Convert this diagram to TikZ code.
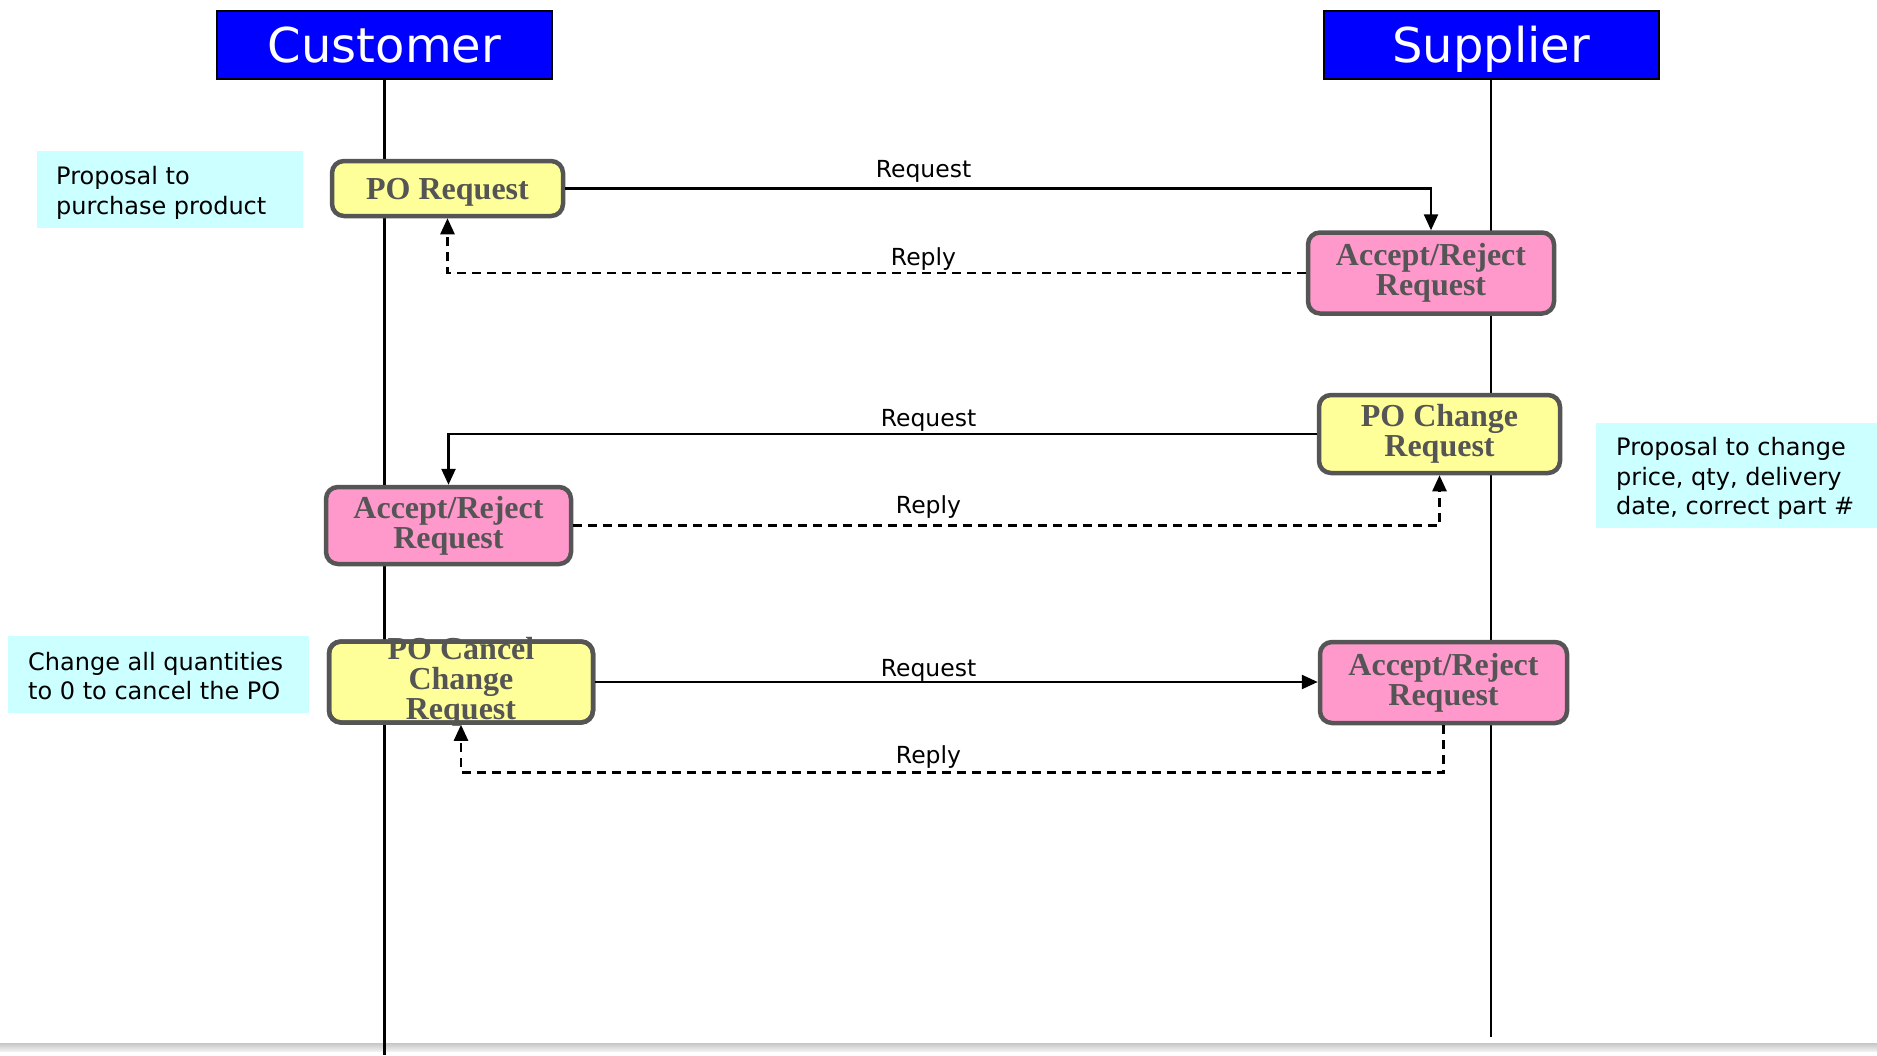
\documentclass[tikz,border=0pt]{standalone}
\usepackage{fontspec}
\setmainfont{Liberation Serif}
\newfontfamily\labelfont{DejaVu Sans}
\usetikzlibrary{arrows.meta}

\definecolor{hdrblue}{HTML}{0000FF}
\definecolor{stepyellow}{HTML}{FFFF99}
\definecolor{steppink}{HTML}{FF99CC}
\definecolor{edgegray}{HTML}{555555}
\definecolor{notecyan}{HTML}{CCFFFF}

\tikzset{
  header/.style={draw=black, line width=2pt, fill=hdrblue, text=white,
    font=\labelfont\fontsize{48}{54}\selectfont,
    text height=35pt, text depth=0pt,
    minimum width=335pt, minimum height=68pt, inner sep=0pt},
  lifeline/.style={draw=black},
  procbox/.style={draw=edgegray, line width=4.5pt, rounded corners=12pt,
    text=edgegray, font=\fontsize{32}{30}\selectfont\bfseries,
    align=center, inner sep=0pt},
  askbox/.style={procbox, fill=stepyellow},
  answerbox/.style={procbox, fill=steppink},
  boxtext/.style={text=edgegray, font=\fontsize{32}{30}\selectfont\bfseries,
    align=center, inner sep=0pt},
  notebg/.style={fill=notecyan, anchor=north west, inner sep=0pt},
  notetext/.style={anchor=west, align=left, inner sep=0pt,
    font=\labelfont\fontsize{24}{29.5}\selectfont},
  msg/.style={line width=2.5pt, -{Triangle[length=16pt,width=14pt]}},
  replymsg/.style={msg, dash pattern=on 9pt off 6pt},
  msglabel/.style={anchor=base, inner sep=0pt,
    font=\labelfont\fontsize{23.5}{28}\selectfont},
}

\begin{document}
\begin{tikzpicture}[x=1pt, y=-1pt]
  \useasboundingbox (0,0) rectangle (1877,1055);
  \fill[white] (0,0) rectangle (1877,1055);

  % shaded strip along the bottom edge
  \fill[top color=gray!45, bottom color=gray!12] (0,1043) rectangle (1877,1051);

  % participants and their lifelines
  \node[header] (cust) at (384.5,45) {Customer};
  \node[header] (supp) at (1491,45) {Supplier};
  \coordinate (custend) at (384.5,1055);
  \coordinate (suppend) at (1491,1037);
  \draw[lifeline, line width=3pt] (cust.south) -- (custend);
  \draw[lifeline, line width=1.8pt] (supp.south) -- (suppend);

  % side notes
  \node[notebg, minimum width=266pt, minimum height=77pt] (note1) at (37,151) {};
  \node[notetext] (note1text) at ([xshift=19pt, yshift=-3pt]note1.west)
    {Proposal to\\purchase product};
  \node[notebg, minimum width=281pt, minimum height=105pt] (note2) at (1596,423) {};
  \node[notetext] (note2text) at ([xshift=20pt, yshift=-3pt]note2.west)
    {Proposal to change\\price, qty, delivery\\date, correct part \#};
  \node[notebg, minimum width=301pt, minimum height=77pt] (note3) at (8,636) {};
  \node[notetext] (note3text) at ([xshift=20pt, yshift=-1.5pt]note3.west)
    {Change all quantities\\to 0 to cancel the PO};

  % exchange 1: purchase order
  \node[askbox, minimum width=231pt, minimum height=55pt,
    text height=21.5pt, text depth=0pt] (poreq) at (447.5,188.5) {PO Request};
  \node[answerbox, minimum width=246pt, minimum height=81pt] (ar1) at (1431,273)
    {Accept/Reject\\Request};

  % exchange 2: change request from the supplier
  \node[askbox, minimum width=241pt, minimum height=78pt] (pochg) at (1439.5,434)
    {PO Change\\Request};
  \node[answerbox, minimum width=245pt, minimum height=77pt] (ar2) at (448.5,525.5)
    {Accept/Reject\\Request};

  % exchange 3: cancellation (the rim is drawn again over the taller text)
  \node[askbox, minimum width=264pt, minimum height=81pt] (pocan) at (461,682) {};
  \node[boxtext] (pocantext) at (pocan.center) {PO Cancel\\Change\\Request};
  \node[procbox, minimum width=264pt, minimum height=81pt] (pocanrim)
    at (pocan.center) {};
  \node[answerbox, minimum width=247pt, minimum height=81pt] (ar3) at (1443.5,682.5)
    {Accept/Reject\\Request};

  % messages
  \draw[msg] (poreq.east) -| (ar1.north);
  \draw[replymsg] (ar1.west) -| (poreq.south);
  \draw[msg] (pochg.west) -| (ar2.north);
  \draw[replymsg] (ar2.east) -| (pochg.south);
  \draw[msg] (pocan.east) -- (ar3.west |- pocan.east);
  \coordinate (r3turn) at ([yshift=-47pt]ar3.south);
  \draw[replymsg] (ar3.south) -- (r3turn) -| (pocan.south);

  % message labels
  \node[msglabel] (lreq1) at (923.5,177) {Request};
  \node[msglabel] (lrep1) at (923.5,265) {Reply};
  \node[msglabel] (lreq2) at (928.5,426) {Request};
  \node[msglabel] (lrep2) at (928.5,513) {Reply};
  \node[msglabel] (lreq3) at (928.5,676) {Request};
  \node[msglabel] (lrep3) at (928.5,763) {Reply};
\end{tikzpicture}
\end{document}
